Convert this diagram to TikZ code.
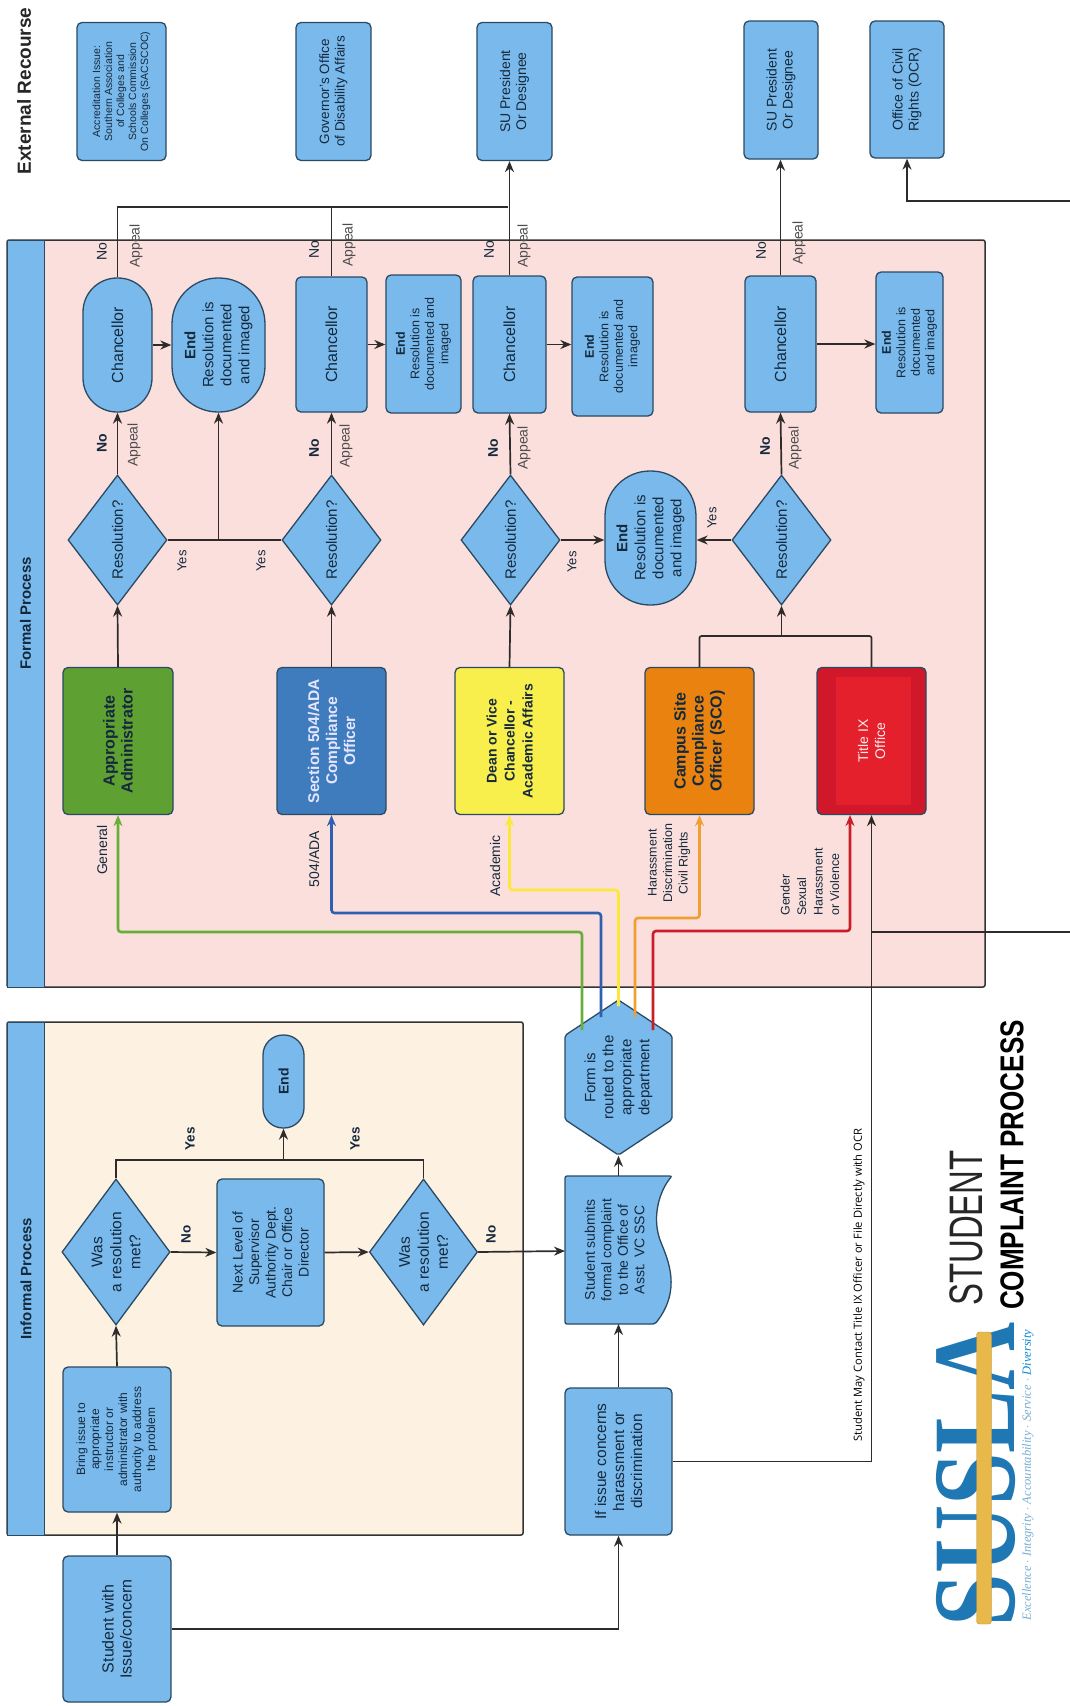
\documentclass[tikz,border=0pt]{standalone}
\usepackage{fontspec}
\setmainfont{Liberation Sans}
\newfontfamily\serifx{Liberation Serif}
\newfontfamily\calx{Open Sans}
\usetikzlibrary{arrows.meta,shapes.geometric,shapes.symbols,calc}
\newcommand\fsz[2]{\fontsize{#1}{#2}\selectfont}
\definecolor{boxblue}{HTML}{7AB9EC}
\definecolor{edgeblue}{HTML}{2A4A63}
\definecolor{inkdark}{HTML}{14293C}
\definecolor{linegray}{HTML}{2F2B2B}
\definecolor{cgreen}{HTML}{5FA033}
\definecolor{cblue}{HTML}{3F7CBE}
\definecolor{cyellow}{HTML}{F8EF4C}
\definecolor{corange}{HTML}{E9820E}
\definecolor{cred}{HTML}{D0182A}
\definecolor{credl}{HTML}{E3202C}
\definecolor{lgreen}{HTML}{6AAE3A}
\definecolor{lblue}{HTML}{2F5FB0}
\definecolor{lyellow}{HTML}{FBE93A}
\definecolor{lorange}{HTML}{F0A030}
\definecolor{lred}{HTML}{C81E28}
\definecolor{lanepink}{HTML}{FBDFDC}
\definecolor{lanecream}{HTML}{FDF1E2}
\definecolor{logoblue}{HTML}{1F78B4}
\definecolor{logogold}{HTML}{E8B84A}
\tikzset{
  bx/.style={draw=edgeblue,line width=1.3pt,fill=boxblue,rotate=90,align=center,
    text=inkdark,rounded corners=4pt,inner sep=1pt},
  sx/.style={bx,rounded corners=5pt},
  dm/.style={draw=edgeblue,line width=1.3pt,fill=boxblue,rotate=90,align=center,
    text=inkdark,diamond,inner sep=0pt,shape aspect=1.3,minimum width=130pt,minimum height=99pt,font=\fsz{15}{17}},
  arr/.style={draw=linegray,line width=1.7pt,-{Stealth[length=11pt,width=9pt]}},
  lin/.style={draw=linegray,line width=1.7pt},
  thinline/.style={draw=linegray,line width=1.1pt},
  clr/.style={line width=2.6pt,rounded corners=3pt,-{Stealth[length=11pt,width=9pt]}},
  lb/.style={rotate=90,text=inkdark,align=center,inner sep=0pt},
  no/.style={lb,font=\fsz{14}{16}\bfseries},
  noup/.style={lb,font=\fsz{14}{16}},
  ap/.style={lb,font=\fsz{14}{16},text=black!70},
  ys/.style={lb,font=\fsz{13}{15}},
  lane/.style={draw=black!80,line width=1.5pt,rounded corners=2pt},
  hdr/.style={draw=edgeblue,line width=1pt,fill=boxblue,rotate=90,align=center,text=inkdark,font=\fsz{15}{17}\bfseries,inner sep=0pt,minimum height=37pt},
}
\begin{document}
\begin{tikzpicture}[x=1pt,y=-1pt]
\useasboundingbox (0,0) rectangle (1070,1706);
\fill[white] (0,0) rectangle (1070,1706);

% lanes
\node[lane,fill=lanepink,minimum width=978pt,minimum height=747pt,inner sep=0pt] (formal) at (496,613.5) {};
\node[hdr,minimum width=747pt] (formalh) at (25.5,613.5) {Formal Process};
\node[lane,fill=lanecream,minimum width=516pt,minimum height=513pt,inner sep=0pt] (informal) at (265,1278.5) {};
\node[hdr,minimum width=513pt] (informalh) at (26,1278.5) {Informal Process};

% external
\node[lb,font=\fsz{19}{21}\bfseries,text=black!85] (ext) at (24,91) {External Recourse};
\node[sx,minimum width=138pt,minimum height=89pt,font=\fsz{10.5}{12}] (acc) at (121.5,91.5) {Accreditation Issue:\\Southern Association\\of Colleges and\\Schools Commission\\On Colleges (SACSCOC)};
\node[sx,minimum width=138pt,minimum height=75pt,font=\fsz{13.5}{15.5}] (gov) at (333.5,91.5) {Governor's Office\\of Disability Affairs};
\node[sx,minimum width=138pt,minimum height=75pt,font=\fsz{14}{16}] (su1) at (514.5,91.5) {SU President\\Or Designee};
\node[sx,minimum width=138pt,minimum height=74pt,font=\fsz{14}{16}] (su2) at (781,90) {SU President\\Or Designee};
\node[sx,minimum width=137pt,minimum height=74pt,font=\fsz{14}{16}] (ocr) at (907,89.5) {Office of Civil\\Rights (OCR)};

% chancellors and ends
\node[bx,rounded corners=34pt,minimum width=134pt,minimum height=69pt,font=\fsz{16}{18}] (c1) at (117.5,345) {Chancellor};
\node[bx,rounded corners=46pt,minimum width=134pt,minimum height=93pt,font=\fsz{15}{18}] (e1) at (218.5,345) {\textbf{End}\\Resolution is\\documented\\and imaged};
\node[sx,minimum width=135pt,minimum height=71pt,font=\fsz{16}{18}] (c2) at (331.5,344.5) {Chancellor};
\node[sx,minimum width=138pt,minimum height=75pt,font=\fsz{12.5}{14.5}] (e2) at (423.5,344) {\textbf{End}\\Resolution is\\documented and\\imaged};
\node[sx,minimum width=137pt,minimum height=73pt,font=\fsz{16}{18}] (c3) at (509.5,344.5) {Chancellor};
\node[sx,minimum width=139pt,minimum height=81pt,font=\fsz{12.5}{14.5}] (e3) at (612.5,346.5) {\textbf{End}\\Resolution is\\documented and\\imaged};
\node[sx,minimum width=136pt,minimum height=71pt,font=\fsz{16}{18}] (c4) at (780.5,344) {Chancellor};
\node[sx,minimum width=141pt,minimum height=67pt,font=\fsz{12.5}{14.5}] (e4) at (909.5,342.5) {\textbf{End}\\Resolution is\\documented\\and imaged};

% diamonds
\node[dm] (d1) at (117.5,540) {Resolution?};
\node[dm] (d2) at (331.5,540) {Resolution?};
\node[dm] (d3) at (510.5,540) {Resolution?};
\node[dm] (d4) at (781.5,540) {Resolution?};
\node[bx,rounded corners=45pt,minimum width=134pt,minimum height=91pt,font=\fsz{15}{18}] (e5) at (650.5,538) {\textbf{End}\\Resolution is\\documented\\and imaged};

% coloured offices
\node[sx,fill=cgreen,minimum width=147pt,minimum height=110pt,font=\fsz{16}{18}\bfseries] (ga) at (118,741) {Appropriate\\Administrator};
\node[sx,fill=cblue,minimum width=147pt,minimum height=109pt,font=\fsz{15.5}{18}\bfseries,text=white!90!blue] (bo) at (331.5,741) {Section 504/ADA\\Compliance\\Officer};
\node[sx,fill=cyellow,minimum width=147pt,minimum height=109pt,font=\fsz{14}{18}\bfseries] (yo) at (509.5,741) {Dean or Vice\\Chancellor -\\Academic Affairs};
\node[sx,fill=corange,minimum width=147pt,minimum height=109pt,font=\fsz{16}{18}\bfseries] (so) at (699.5,741) {Campus Site\\Compliance\\Officer (SCO)};
\fill[cred,rounded corners=4pt] (817,667.5) rectangle (926,814.5);
\fill[credl] (836,677) rectangle (911,805);
\node[sx,fill=none,minimum width=147pt,minimum height=109pt,font=\fsz{14}{17},text=white!92!red] (tix) at (871.5,741) {Title IX\\Office};

% informal
\node[bx,rounded corners=20pt,minimum width=93pt,minimum height=41pt,font=\fsz{14}{16}\bfseries] (endi) at (283.5,1081.5) {End};
\node[dm,shape aspect=1.35,minimum width=142pt,minimum height=106pt,font=\fsz{15.5}{19}] (w1) at (116,1252) {Was\\a resolution\\met?};
\node[sx,minimum width=147pt,minimum height=107pt,font=\fsz{14}{16.5}] (nl) at (270.5,1252.5) {Next Level of\\Supervisor\\Authority Dept.\\Chair or Office\\Director};
\node[dm,shape aspect=1.35,minimum width=142pt,minimum height=106pt,font=\fsz{15.5}{19}] (w2) at (423.5,1252) {Was\\a resolution\\met?};
\node[sx,minimum width=145pt,minimum height=108pt,font=\fsz{12}{14}] (br) at (117,1439.5) {Bring issue to\\appropriate\\instructor or\\administrator with\\authority to address\\the problem};
\node[sx,minimum width=146pt,minimum height=108pt,font=\fsz{16}{18}] (st) at (117,1629) {Student with\\Issue/concern};
\node[sx,minimum width=147pt,minimum height=107pt,font=\fsz{15.5}{18}] (ii) at (618.5,1461.5) {If issue concerns\\harassment or\\discrimination};

% document and hexagon
\filldraw[draw=edgeblue,line width=1.3pt,fill=boxblue,rounded corners=2pt] (565,1176) -- (672,1176) .. controls (660,1190) and (652,1215) .. (660,1240) .. controls (668,1260) and (682,1290) .. (655,1324) -- (565,1324) -- cycle;
\node[rotate=90,align=center,text=inkdark,inner sep=0pt,minimum width=148pt,minimum height=107pt,font=\fsz{14}{16.5},yshift=4pt] (doctxt) at (618.5,1250) {Student submits\\formal complaint\\to the Office of\\Asst. VC SSC};
\coordinate (dtop) at (618.5,1176);
\coordinate (dbot) at (618.5,1324);
\coordinate (dleft) at (565,1251);
\node[bx,signal,signal to=east and west,signal pointer angle=113,rounded corners=2pt,inner sep=0pt,minimum width=143pt,minimum height=107pt,font=\fsz{15}{18}] (hex) at (618.5,1077.5) {Form is\\routed to the\\appropriate\\department};

% upper connectors
\coordinate (j1) at (508,207);
\draw[thinline] (c1.east) -- (c1.east |- j1) -- (j1);
\draw[thinline] (c2.east) -- (c2.east |- j1);
\draw[arr] (c3.east) -- (c3.east |- su1.west);
\draw[arr] (c4.east) -- (c4.east |- su2.west);
\coordinate (ocrfree) at (1070,201);
\coordinate (ocrturn) at (907,201);
\draw[arr] (ocrfree) -- (ocrturn) -- (ocr.west);
\foreach \a/\b in {c1/e1,c2/e2,c3/e3,c4/e4}{\draw[arr] (\a.south) -- (\a.south -| \b.north);}
\foreach \a/\b in {d1/c1,d2/c2,d3/c3,d4/c4,ga/d1,bo/d2,yo/d3}{\draw[arr] (\a.east) -- (\b.west);}
\draw[lin] (d1.south) -- (d2.north);
\draw[arr] (e1.west |- d1.south) -- (e1.west);
\draw[arr] (d3.south) -- (d3.south -| e5.north);
\draw[arr] (d4.north) -- (d4.north -| e5.south);
\coordinate (jo) at (781.5,636);
\draw[lin,rounded corners=2pt] (so.east) -- (so.east |- jo) -- (tix.east |- jo) -- (tix.east);
\draw[arr] (jo) -- (d4.west);

% coloured routes
\coordinate (hg) at (582,1030);
\coordinate (hb) at (601,1017);
\coordinate (hy) at (618.5,1006);
\coordinate (ho) at (635,1017);
\coordinate (hr) at (653,1030);
\coordinate (rx) at (850,815);
\draw[clr,lgreen] (hg) -- (hg |- 0,932) -| (ga.west);
\draw[clr,lblue] (hb) -- (hb |- 0,913) -| (bo.west);
\draw[clr,lyellow] (hy) -- (hy |- 0,890) -| (yo.west);
\draw[clr,lorange] (ho) -- (ho |- 0,918) -| (so.west);
\draw[clr,lred] (hr) -- (hr |- 0,931) -| (rx);
\draw[thinline,-{Stealth[length=11pt,width=9pt]}] (ii.south) -| (tix.west);
\coordinate (ocrline) at (1070,932);
\draw[thinline] (ocrline) -- (ocrline -| tix.west);

% lower connectors
\draw[arr] (st.east) -- (br.west);
\draw[arr] (br.east) -- (w1.west);
\draw[arr] (w1.south) -- (nl.north);
\draw[arr] (nl.south) -- (w2.north);
\draw[arr] (w2.south) -- (dleft);
\coordinate (jy) at (283.5,1160);
\draw[lin] (w1.east) -- (w1.east |- jy) -- (w2.east |- jy) -- (w2.east);
\draw[arr] (jy) -- (endi.west);
\draw[arr] (st.south) -| (ii.west);
\draw[arr] (ii.east) -- (dbot);
\draw[arr] (dtop) -- (hex.west);

% labels
\node[noup] (n1) at (102,252) {No}; \node[ap] (a1) at (136,246) {Appeal};
\node[noup] (n2) at (314,250) {No}; \node[ap] (a2) at (349,245) {Appeal};
\node[noup] (n3) at (489,250) {No}; \node[ap] (a3) at (524,246) {Appeal};
\node[noup] (n4) at (761,251) {No}; \node[ap] (a4) at (799,243) {Appeal};
\node[no] (n5) at (102,443) {No}; \node[ap] (a5) at (134,445) {Appeal};
\node[no] (n6) at (314,448) {No}; \node[ap] (a6) at (346,446) {Appeal};
\node[no] (n7) at (493,448) {No}; \node[ap] (a7) at (524,448) {Appeal};
\node[no] (n8) at (765,446) {No}; \node[ap] (a8) at (795,448) {Appeal};
\node[ys] (y1) at (182,561) {Yes};
\node[ys] (y2) at (261,561) {Yes};
\node[ys] (y3) at (572,562) {Yes};
\node[ys] (y4) at (712,518) {Yes};
\node[lb,font=\fsz{14}{16}] (lg) at (102,850) {General};
\node[lb,font=\fsz{14}{16}] (lbb) at (314,859) {504/ADA};
\node[lb,font=\fsz{14}{16}] (ly) at (495,866) {Academic};
\node[lb,font=\fsz{12.5}{15.5}] (lo) at (669,863) {Harassment\\Discrimination\\Civil Rights};
\node[lb,align=left,font=\fsz{12.5}{16.5}] (lr) at (810,882) {Gender\\Sexual\\Harassment\\or Violence};
\node[ys,font=\fsz{13.5}{15}\bfseries] (y5) at (190,1139) {Yes};
\node[ys,font=\fsz{13.5}{15}\bfseries] (y6) at (355,1139) {Yes};
\node[ys,font=\fsz{13.5}{15}\bfseries] (n9) at (186,1234) {No};
\node[ys,font=\fsz{13.5}{15}\bfseries] (n10) at (491,1234) {No};
\node[lb,font=\calx\fsz{11.2}{13},text=black] (note) at (859,1285) {Student May Contact Title IX Officer or File Directly with OCR};

% title and logo
\node[lb,font=\fsz{47}{50},text=black!85] (t1) at (966,1228) {\scalebox{0.7}[1]{STUDENT}};
\node[lb,font=\fsz{33}{35}\bfseries,text=black] (t2) at (1012,1165) {\scalebox{0.79}[1]{COMPLAINT PROCESS}};
\node[lb,font=\serifx\fsz{118}{120}\bfseries,text=logoblue] (logo) at (976,1474) {\scalebox{0.8}[1]{SUSLA}};
\node[rotate=90,fill=logogold,draw=logogold!80!black,minimum width=292pt,minimum height=15pt,inner sep=0pt,rounded corners=3pt] (bar) at (984,1478) {};
\node[lb,font=\serifx\itshape\fsz{12.5}{14},text=logoblue!60] (tag) at (1028,1475) {Excellence $\cdot$ Integrity $\cdot$ Accountability $\cdot$ Service $\cdot$ \textcolor{cyan!70!blue}{Diversity}};
\end{tikzpicture}
\end{document}
